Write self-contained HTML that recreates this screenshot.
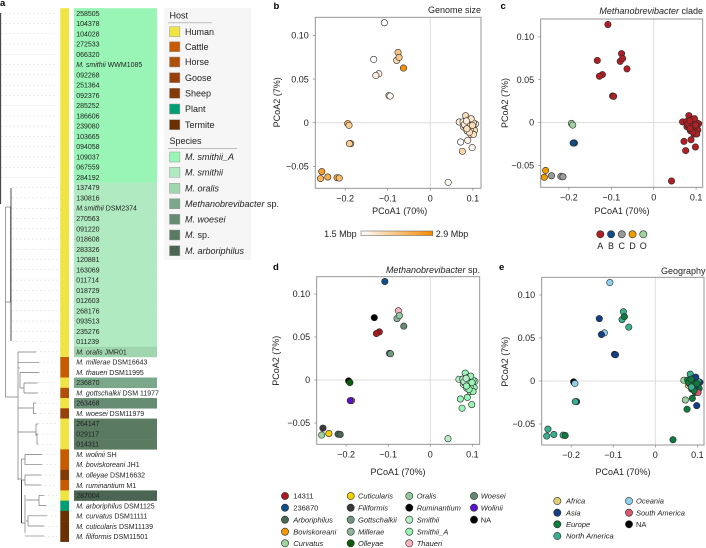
<!DOCTYPE html>
<html lang="en">
<head>
<meta charset="utf-8">
<title>Methanobrevibacter phylogeny and PCoA panels</title>
<style>
html,body{margin:0;padding:0;background:#fff;}
body{width:706px;height:548px;overflow:hidden;}
svg{display:block;font-family:"Liberation Sans",sans-serif;fill:#222;}
text{font-size:9px;}
</style>
</head>
<body>
<svg id="fig" width="706" height="548" viewBox="0 0 706 548" xmlns="http://www.w3.org/2000/svg">
  <g style="font-weight:bold;fill:#000">
    <text x="0" y="6" style="font-size:9.5px">a</text>
    <text x="273.5" y="9" style="font-size:9.5px">b</text>
    <text x="500.5" y="9" style="font-size:9.5px">c</text>
    <text x="273" y="270" style="font-size:9.5px">d</text>
    <text x="499" y="270" style="font-size:9.5px">e</text>
  </g>
  <rect x="164" y="8" width="87" height="252" fill="#f6f6f6"/>
  <g id="tree-dots"></g>
  <g fill="none" stroke="#777" stroke-width="0.7">
    <path d="M0.6 13V204" stroke="#333" stroke-width="1"/>
    <path d="M5.5 207H10.5V302H5.5V207V397H17.5"/>
    <path d="M11 188V341" stroke="#222" stroke-width="0.8"/>
    <path d="M18 352H36M18 352V480M18 362.3H39M20 372.6H39M20 372.6V388M18.5 368H20M20 388H24M24 383H37.5M24 393H37.5M24 383V393" />
    <path d="M18 408H33.5M33.5 403V413.5M33.5 403H36M33.5 413.5H36M18 432H36M36 424V436M36 424H38M36 434H38M37 434V444H38"/>
    <path d="M18 479H21.5M21.5 459V523M21.5 459H25M25 454.5V464.7M25 454.5H42M25 464.7H42M21.5 480H25M25 475V485M25 475H41M25 485H41"/>
    <path d="M21.5 523H25M25 495V533M26 500H39M39 495.3V505.6M39 495.3H44M39 505.6H46M26 521H28M28 515.8V526M28 515.8H47M28 526H44"/>
    <path d="M25 536H44" stroke="#aaa" stroke-width="1"/>
    <path d="M21.5 480V523" stroke="#222" stroke-width="0.8"/>
  </g>
  <g id="tree-rows"></g>
  <g id="legends"></g>
  <g id="panels"></g>
  <defs>
    <linearGradient id="mbp-gradient" x1="0" x2="1" y1="0" y2="0">
      <stop offset="0" stop-color="#ffffff"/>
      <stop offset="1" stop-color="#f58a00"/>
    </linearGradient>
  </defs>
</svg>
<script>
/* ---------- Tree tip table ---------- */
const rowLabelsItalic = ["","","","","","M. smithii","","","","","","","","","","","",
  "","","M.smithii","","","","","","","","","","","","","",
  "M. oralis","M. millerae","M. thaueri","","M. gottschalkii","","M. woesei","","","",
  "M. wolinii","M. boviskoreani","M. olleyae","M. ruminantium","","M. arboriphilus","M. curvatus","M. cuticularis","M. filiformis"];
const rowLabelsPlain = ["258505","104378","104028","272533","066320"," WWM1085","092268","251364","092376","285252","186606","239080","103665","094058","109037","067559","284192",
  "137479","130816"," DSM2374","270563","091220","018608","283326","120881","163069","011714","018729","012603","268176","093513","235276","011239",
  " JMR01"," DSM16643"," DSM11995","236870"," DSM 11977","263468"," DSM11979","264147","029117","014311",
  " SH"," JH1"," DSM16632"," M1","287004"," DSM1125"," DSM11111"," DSM11139"," DSM11501"];
const rowHosts = ["Human","Human","Human","Human","Human","Human","Human","Human","Human","Human","Human","Human","Human","Human","Human","Human","Human",
  "Human","Human","Human","Human","Human","Human","Human","Human","Human","Human","Human","Human","Human","Human","Human","Human",
  "Human","Cattle","Cattle","Human","Horse","Human","Goose","Human","Human","Human",
  "Cattle","Cattle","Sheep","Cattle","Human","Plant","Termite","Termite","Termite"];
const rowSpecies = ["A","A","A","A","A","A","A","A","A","A","A","A","A","A","A","A","A",
  "S","S","S","S","S","S","S","S","S","S","S","S","S","S","S","S",
  "O","","","M","","W","","P","P","P","","","","","R","","","",""];
const rowTips = [1,1,1,1,1,1,1,1,1,1,1,1,1,1,1,1,1,12,12,12,12,12,12,12,12,12,12,12,12,12,12,12,12,36,39,39,37.5,37.5,36,36,38,38,38,42,42,41,41,44,46,47,44,44];

/* ---------- Tree legend ---------- */
const hostNames = ["Human","Cattle","Horse","Goose","Sheep","Plant","Termite"];
const hostColors = ["#f0e442","#c85a00","#b04f08","#983f0a","#823a08","#009e73","#6b3000"];
const speciesNames = ["M. smithii_A","M. smithii","M. oralis","Methanobrevibacter","M. woesei","M.","M. arboriphilus"];
const speciesKeys = ["A","S","O","M","W","P","R"];
const speciesFill = ["#98f5b5","#b0eac0","#a0d6ae","#7ba88a","#668c74","#5a7a62","#4b6553"];

/* ---------- PCoA scatter data ---------- */
const pcoa1 = [-0.108,-0.0758,-0.079,-0.0734,-0.063,-0.133,-0.121,-0.128,-0.097,-0.0945,-0.194,-0.191,-0.187,-0.19,-0.255,-0.258,-0.241,-0.219,-0.214,0.042,
  0.0714,0.0984,0.0754,0.088,0.083,0.09,0.068,0.077,0.0865,0.098,0.106,0.1015,0.0785,0.088,0.1008,0.104,0.0865,0.0945,0.095,0.1015,0.0825,0.091,0.096,0.08,0.092,0.085,0.099,0.086];
const pcoa2 = [0.1145,0.0805,0.0714,0.0748,0.0626,0.0725,0.056,0.054,0.031,0.0305,-0.001,-0.003,-0.024,-0.024,-0.056,-0.064,-0.0622,-0.063,-0.0634,-0.0683,
  -0.0221,-0.0286,-0.0328,-0.0202,0.008,0.003,0.0008,0.001,-0.0004,-0.0008,-0.0015,-0.0004,-0.005,-0.0057,-0.0065,-0.0088,-0.0095,-0.0084,-0.0134,-0.0134,-0.0038,-0.0038,0.0045,-0.002,-0.011,0.002,-0.003,-0.007];
const genomeSizeMbp = [1.55,2.2,1.95,2.15,2.8,1.5,1.7,1.65,1.5,1.6,2.45,2.1,2.0,2.1,2.65,2.4,2.5,2.5,2.3,1.6,
  1.5,1.6,2.0,1.65,1.9,1.85,1.7,1.75,1.8,1.9,1.6,1.8,1.85,1.9,1.85,1.9,1.8,1.85,1.9,1.85,1.8,1.9,1.8,1.75,1.85,1.7,1.9,1.85];
const cladeOfPoint = ["A","A","A","A","A","A","A","A","A","A","O","O","B","B","D","D","C","C","C","A",
  "A","A","A","A","A","A","A","A","A","A","A","A","A","A","A","A","A","A","A","A","A","A","A","A","A","A","A","A"];
const speciesOfPoint = ["236870","Thaueri","Millerae","Oralis","Woesei","NA","14311","14311","Woesei","Gottschalkii","Ruminantium","Olleyae","Boviskoreani","Wolinii","Filiformis","Curvatus","Cuticularis","Arboriphilus","Arboriphilus","Smithii",
  "Smithii_A","Smithii_A","Smithii_A","Smithii_A","Smithii_A","Smithii_A","Smithii","Smithii","Smithii","Smithii_A","Smithii","Smithii_A","Smithii","Smithii","Smithii_A","Smithii_A","Smithii_A","Smithii","Smithii_A","Smithii_A","Smithii","Smithii_A","Smithii_A","Smithii","Smithii_A","Smithii","Smithii_A","Smithii_A"];
const geographyOfPoint = ["Oceania","North America","North America","Europe","North America","Asia","Oceania","Asia","Asia","Asia","NA","Oceania","Asia","North America","North America","North America","North America","North America","Europe","Europe",
  "Unmapped","Asia","Europe","Europe","North America","Asia","Unmapped","Europe","Europe","Europe","Asia","North America","Africa","Europe","Europe","Europe","Europe","Asia","Europe","South America","Europe","Europe","Asia","Europe","Europe","Europe","Europe","North America"];

const xTickValues = [-0.2,-0.1,0,0.1];
const xTickLabels = ["\u22120.2","\u22120.1","0","0.1"];
const yTickValues = [0.10,0.05,0,-0.05];
const yTickLabels = ["0.10","0.05","0","\u22120.05"];

const cladeNames = ["A","B","C","D","O"];
const cladeColors = ["#b11f24","#0f4c8a","#9a9a9a","#f09c00","#9fd39f"];
const speciesLegendNames = ["14311","236870","Arboriphilus","Boviskoreani","Curvatus","Cuticularis","Filiformis","Gottschalkii","Millerae","Olleyae","Oralis","Ruminantium","Smithii","Smithii_A","Thaueri","Woesei","Wolinii","NA"];
const speciesLegendColors = ["#a61c1f","#0d4f8b","#4a6655","#f29a00","#9ed49e","#f5cf00","#3a3a3a","#6f9a7f","#8db69b","#0a5c0a","#93c9a0","#000000","#b6ecc6","#98f5b5","#f8b3c0","#638a70","#5a10d0","#000000"];
const geoNames = ["Africa","Asia","Europe","North America","Oceania","South America","NA"];
const geoColors = ["#e3cf72","#123f86","#0e7a3c","#3aae90","#8fd0ee","#d8596c","#000000"];

const SVGNS = "http://www.w3.org/2000/svg";
function mk(tag, parent, attrs, txt) {
  const e = document.createElementNS(SVGNS, tag);
  for (const k in attrs) e.setAttribute(k, attrs[k]);
  if (txt !== undefined) e.textContent = txt;
  parent.appendChild(e);
  return e;
}

/* ---------- Tree rows ---------- */
const rowY = i => 13.3 + 10.26 * i;
const dotsG = document.getElementById("tree-dots");
const rowsG = document.getElementById("tree-rows");
rowLabelsPlain.forEach((plain, i) => {
  const y = rowY(i);
  const guide = mk("line", dotsG, {x1: rowTips[i], x2: 57, y1: y, y2: y, stroke: "#c4c4c4", "stroke-width": 0.5, "stroke-dasharray": "1.4 2.6"});
  
  

  const hostIdx = hostNames.indexOf(rowHosts[i]);
  const hostCell = mk("rect", rowsG, {x: 60.3, y: y - 5.13, width: 8.7, height: 10.5, fill: hostColors[hostIdx]});
  
  

  const key = rowSpecies[i];
  if (key) {
    const band = mk("rect", rowsG, {x: 74, y: y - 5.13, width: 83, height: 10.5, fill: speciesFill[speciesKeys.indexOf(key)]});
    
    
  }
});
rowLabelsPlain.forEach((plain, i) => {
  const t = mk("text", rowsG, {x: 76.2, y: rowY(i) + 2.5, style: "font-size:7px;fill:#222"});
  
  
  if (rowLabelsItalic[i]) mk("tspan", t, {"font-style": "italic"}, rowLabelsItalic[i]);
  const p = mk("tspan", t, {}, plain);
  p.setAttribute("xml:space", "preserve");
  t.setAttribute("xml:space", "preserve");
});

/* ---------- Tree legends ---------- */
const legendG = document.getElementById("legends");
const hostLegendY = [31.7, 46.7, 62, 77.7, 93.3, 109, 124.7];
const speciesLegendY = [157, 172.3, 188.3, 203.7, 219.3, 235, 250.7];
function legendTitle(label, baseY, ruleEnd) {
  const t = mk("text", legendG, {x: 169.5, y: baseY, style: "fill:#222"}, label);
  
  
  const r = mk("line", legendG, {x1: 168, x2: ruleEnd, y1: baseY + 4.5, y2: baseY + 4.5, stroke: "#999", "stroke-width": 0.7});
  
  
}
legendTitle("Host", 18.3, 212);
legendTitle("Species", 143.8, 237);
hostNames.forEach((n, i) => {
  const s = mk("rect", legendG, {x: 169.5, y: hostLegendY[i] - 5, width: 10.4, height: 10, fill: hostColors[i], stroke: "#999", "stroke-width": 0.5});
  
  
  const t = mk("text", legendG, {x: 185, y: hostLegendY[i] + 3.2, style: "fill:#222"}, n);
  
  
});
speciesNames.forEach((n, i) => {
  const s = mk("rect", legendG, {x: 169.5, y: speciesLegendY[i] - 5, width: 10.4, height: 10, fill: speciesFill[i], stroke: "#999", "stroke-width": 0.5});
  
  
  const t = mk("text", legendG, {x: 185, y: speciesLegendY[i] + 3.2, style: "fill:#222"});
  
  
  mk("tspan", t, {"font-style": "italic"}, n);
  if (n === "Methanobrevibacter" || n === "M.") { mk("tspan", t, {}, "\u00a0sp."); }
});

/* ---------- PCoA panels ---------- */
function mixGenome(v) {
  const t = Math.max(0, Math.min(1, (v - 1.5) / 1.4));
  const c = [255 + (245 - 255) * t, 255 + (138 - 255) * t, 255 + (0 - 255) * t].map(Math.round);
  return "rgb(" + c.join(",") + ")";
}
const cladeFill = i => cladeColors[cladeNames.indexOf(cladeOfPoint[i])];
const speciesPointFill = i => speciesLegendColors[speciesLegendNames.indexOf(speciesOfPoint[i])];
const geoFill = i => geographyOfPoint[i] === "Unmapped" ? "#98d29c" : geoColors[geoNames.indexOf(geographyOfPoint[i])];

const panelsG = document.getElementById("panels");
function drawPanel(o) {
  const g = mk("g", panelsG, {});
  
  
  const sx = v => o.x0 + v * o.xu;
  const sy = v => o.y0 - v * o.yu;
  const grid1 = mk("line", g, {x1: sx(0), x2: sx(0), y1: o.t, y2: o.b, stroke: "#ddd", "stroke-width": 1});
  
  
  const grid2 = mk("line", g, {x1: o.l, x2: o.r, y1: sy(0), y2: sy(0), stroke: "#ddd", "stroke-width": 1});
  
  
  pcoa1.forEach((v, i) => {
    const c = mk("circle", g, {cx: sx(v), cy: sy(pcoa2[i]), r: 3.2, fill: o.fill(i), stroke: "#2a2a2a", "stroke-width": 0.6});
    
    
  });
  const frame = mk("rect", g, {x: o.l, y: o.t, width: o.r - o.l, height: o.b - o.t, fill: "none", stroke: "#8c8c8c", "stroke-width": 0.9});
  
  
  xTickValues.forEach((v, i) => {
    const tk = mk("line", g, {x1: sx(v), x2: sx(v), y1: o.b, y2: o.b + 2.5, stroke: "#777", "stroke-width": 0.6});
    
    
    const lb = mk("text", g, {x: sx(v), y: o.b + 13, "text-anchor": "middle", style: "fill:#222"}, xTickLabels[i]);
    
    
  });
  yTickValues.forEach((v, i) => {
    const tk = mk("line", g, {x1: o.l - 2.5, x2: o.l, y1: sy(v), y2: sy(v), stroke: "#777", "stroke-width": 0.6});
    
    
    const lb = mk("text", g, {x: o.l - 6.5, y: sy(v) + 3.2, "text-anchor": "end", style: "fill:#222"}, yTickLabels[i]);
    
    
  });
  const xt = mk("text", g, {x: o.xtx, y: o.xty + 3.2, "text-anchor": "middle", style: "fill:#222"}, "PCoA1 (70%)");
  
  
  const yt = mk("text", g, {transform: "translate(" + (o.ytx + 3.2) + "," + o.yty + ") rotate(-90)", "text-anchor": "middle", style: "fill:#222"}, "PCoA2 (7%)");
  
  
  const tt = mk("text", g, {x: o.ttx, y: o.tty, "text-anchor": "end", style: "fill:#222"});
  
  
  if (o.titleItalic) mk("tspan", tt, {"font-style": "italic"}, o.titleItalic);
  mk("tspan", tt, {}, o.titlePlain);
}
drawPanel({name:"panel-b-genome-size", l:315.3, r:481, t:17.3, b:188.3, x0:430.3, xu:425.5, y0:122.7, yu:873,
  xtx:399.7, xty:211, ytx:276.7, yty:102.3, ttx:481, tty:13, titlePlain:"Genome size", fill:i => mixGenome(genomeSizeMbp[i])});
drawPanel({name:"panel-c-clade", l:540.7, r:702.7, t:19, b:187.3, x0:653.7, xu:424, y0:122.5, yu:856,
  xtx:622, xty:211, ytx:505, yty:103, ttx:703, tty:14, titleItalic:"Methanobrevibacter", titlePlain:"\u00a0clade", fill:cladeFill});
drawPanel({name:"panel-d-species", l:316.7, r:479.7, t:276.7, b:444.3, x0:430.3, xu:421, y0:380, yu:860,
  xtx:398, xty:471.7, ytx:276, yty:360.7, ttx:480, tty:273, titleItalic:"Methanobrevibacter", titlePlain:"\u00a0sp.", fill:speciesPointFill});
drawPanel({name:"panel-e-geography", l:541.7, r:704, t:277.3, b:445, x0:655.3, xu:421, y0:381, yu:860,
  xtx:623, xty:471.7, ytx:505, yty:361.7, ttx:705.5, tty:274, titlePlain:"Geography", fill:geoFill});

/* ---------- Panel legends ---------- */
const b1 = mk("text", panelsG, {x: 356.7, y: 237, "text-anchor": "end", style: "fill:#222"}, "1.5 Mbp");


const b2 = mk("rect", panelsG, {x: 361, y: 231, width: 71.7, height: 4.5, fill: "url(#mbp-gradient)", stroke: "#555", "stroke-width": 0.5});


const b3 = mk("text", panelsG, {x: 435.7, y: 237, style: "fill:#222"}, "2.9 Mbp");



function legendDot(cx, cy, fill) {
  const c = mk("circle", panelsG, {cx: cx, cy: cy, r: 3.6, fill: fill, stroke: "#2a2a2a", "stroke-width": 0.6});
  
  
}
function legendText(x, y, s, italic, size) {
  const t = mk("text", panelsG, {x: x, y: y, "font-style": italic ? "italic" : "normal", style: "font-size:" + size + "px;fill:#222"}, s);
  
  
}
cladeNames.forEach((n, i) => {
  const cx = 600.3 + 10.75 * i;
  legendDot(cx, 234.3, cladeColors[i]);
  const t = mk("text", panelsG, {x: cx, y: 249.2, "text-anchor": "middle", style: "fill:#222"}, n);
  
  
});
const dotColX = [285, 350.7, 409.3, 474];
const textColX = [293.3, 358, 416.7, 480.7];
const dRowY = [496, 507.7, 519.7, 531.7, 543.3];
speciesLegendNames.forEach((n, i) => {
  const col = Math.floor(i / 5), row = i % 5;
  legendDot(dotColX[col], dRowY[row], speciesLegendColors[i]);
  const plain = n === "14311" || n === "236870" || n === "NA";
  legendText(textColX[col], dRowY[row] + 2.7, n, !plain, 7.5);
});
const eDotX = [557.3, 629];
const eTextX = [566, 636];
const eRowY = [501, 512.7, 524.3, 536];
geoNames.forEach((n, i) => {
  const col = i < 4 ? 0 : 1, row = i < 4 ? i : i - 4;
  legendDot(eDotX[col], eRowY[row], geoColors[i]);
  legendText(eTextX[col], eRowY[row] + 2.7, n, n !== "NA", 7.5);
});
</script>
</body>
</html>
